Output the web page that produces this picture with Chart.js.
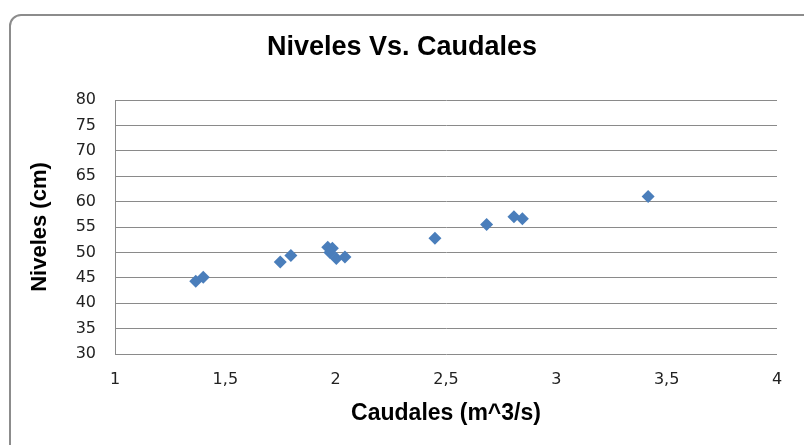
<!DOCTYPE html>
<html>
<head>
<meta charset="utf-8">
<script src="https://cdn.jsdelivr.net/npm/chart.js@4"></script>
<style>
  html, body { margin: 0; padding: 0; background: #fff; overflow: hidden; }
  #frame {
    position: absolute; left: 9px; top: 14px; width: 900px; height: 500px;
    border: 2px solid #8c8c8c; border-radius: 12px; box-sizing: border-box;
  }
  #wrap { position: absolute; left: 0; top: 0; width: 804px; height: 445px; }
</style>
</head>
<body>
<div id="frame"></div>
<div id="wrap"><canvas id="chart" width="804" height="445"></canvas></div>
<script>
"use strict";
// Caudales (m^3/s) vs Niveles (cm)
const caudales = [1.366, 1.40, 1.749, 1.797, 1.964, 1.985, 1.974, 2.003, 2.042, 2.45, 2.684, 2.808, 2.846, 3.416];
const niveles  = [44.3, 45.1, 48.1, 49.4, 51.0, 50.8, 50.0, 48.8, 49.1, 52.8, 55.5, 57.0, 56.6, 61.0];

const xTicks = { min: 1, max: 4, step: 0.5 };
const yTicks = { min: 30, max: 80, step: 5 };

const points = caudales.map((c, i) => ({ x: c, y: niveles[i] }));
const FONT = "'Liberation Sans', Arial, sans-serif";
const TICKFONT = "'DejaVu Sans', sans-serif";

new Chart(document.getElementById("chart"), {
  type: 'scatter',
  data: {
    datasets: [{
      data: points,
      pointStyle: 'rectRot',
      pointRadius: 6.5,
      pointHoverRadius: 6.5,
      backgroundColor: '#4a7ebb',
      borderColor: '#4a7ebb',
      borderWidth: 0
    }]
  },
  options: {
    responsive: false,
    animation: false,
    layout: { padding: 0 },
    plugins: {
      legend: { display: false },
      tooltip: { enabled: false },
      title: {
        display: true,
        text: 'Niveles Vs. Caudales',
        color: '#000',
        font: { family: FONT, size: 27, weight: 'bold' },
        padding: { top: 31, bottom: 36.6 }
      }
    },
    scales: {
      x: {
        type: 'linear',
        min: xTicks.min, max: xTicks.max,
        grid: { display: false, drawTicks: false },
        border: { display: false },
        ticks: {
          stepSize: xTicks.step,
          color: '#222',
          padding: 16,
          font: { family: TICKFONT, size: 16 },
          callback: (v) => String(v).replace('.', ',')
        },
        title: {
          display: true,
          text: 'Caudales (m^3/s)',
          color: '#000',
          font: { family: FONT, size: 23, weight: 'bold' },
          padding: { top: 18, bottom: 18 }
        },
        afterFit: (s) => { s.height = 91; }
      },
      y: {
        min: yTicks.min, max: yTicks.max,
        grid: { color: '#8a8a8a', lineWidth: 1, drawTicks: false },
        border: { display: true, color: '#8a8a8a', width: 1 },
        ticks: {
          stepSize: yTicks.step,
          color: '#222',
          padding: 19,
          font: { family: TICKFONT, size: 16 }
        },
        title: {
          display: true,
          text: 'Niveles (cm)',
          color: '#000',
          font: { family: FONT, size: 22, weight: 'bold' },
          padding: { top: 27, bottom: 27 }
        },
        afterFit: (s) => { s.width = 115; }
      },
      // empty right-hand strip so the plot ends where the reference does
      yRight: {
        position: 'right',
        min: yTicks.min, max: yTicks.max,
        grid: { display: false, drawTicks: false },
        border: { display: false },
        ticks: { display: false },
        afterFit: (s) => { s.width = 27; }
      }
    }
  }
});
</script>
</body>
</html>
